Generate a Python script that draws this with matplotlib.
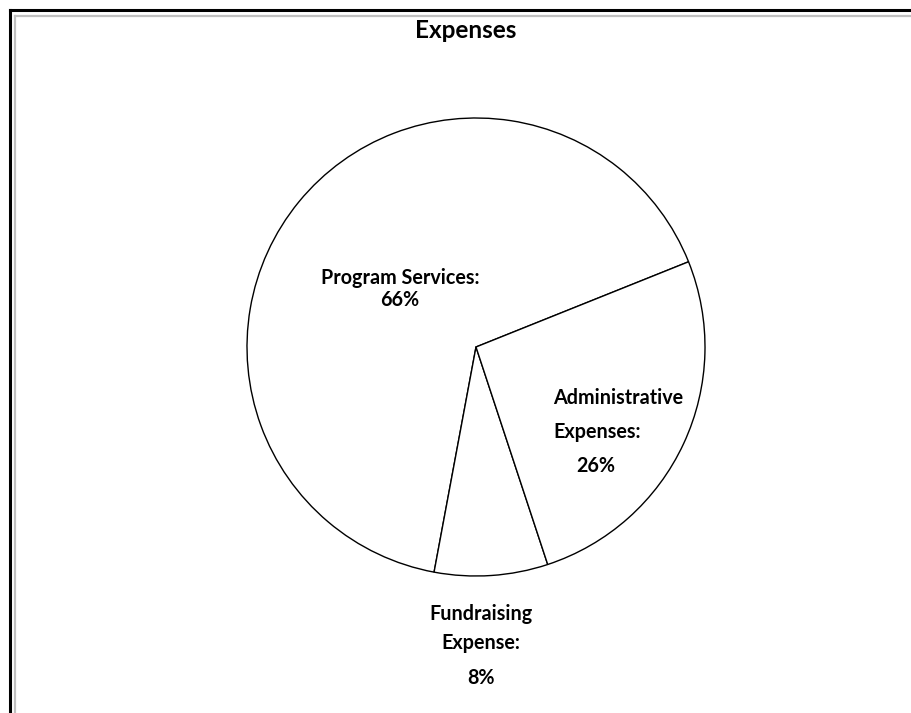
import matplotlib.pyplot as plt
from matplotlib.lines import Line2D

categories = ["Program Services", "Fundraising Expense", "Administrative Expenses"]
values = [66, 8, 26]
title = "Expenses"

W, H = 911, 713
fig = plt.figure(figsize=(W / 100, H / 100), dpi=100)
fig.patch.set_facecolor("white")
ax = fig.add_axes([0, 0, 1, 1])

# pie centre / radius in pixel units (y measured from the bottom)
cx, cy, r = 476, H - 347, 229
ax.pie(values, startangle=21.85, counterclock=True, center=(cx, cy), radius=r,
       colors=["white"] * len(values),
       wedgeprops=dict(edgecolor="black", linewidth=1.0), frame=True)
ax.set_xlim(0, W)
ax.set_ylim(0, H)
ax.set_aspect("equal")
ax.axis("off")

font = dict(family=["Lato", "DejaVu Sans"], fontweight="bold", fontsize=14.2, color="black")

ax.text(466, H - 31, title, ha="center", va="center", **dict(font, fontsize=17.5))

# Program Services
ax.text(400, H - 278, categories[0] + ":", ha="center", va="center", **font)
ax.text(400, H - 300, f"{values[0]}%", ha="center", va="center", **font)

# Administrative Expenses
adm1, adm2 = categories[2].split(" ")
ax.text(553, H - 398, adm1, ha="left", va="center", **font)
ax.text(553, H - 432, adm2 + ":", ha="left", va="center", **font)
ax.text(596, H - 466, f"{values[2]}%", ha="center", va="center", **font)

# Fundraising Expense
fr1, fr2 = categories[1].split(" ")
ax.text(481, H - 614, fr1, ha="center", va="center", **font)
ax.text(481, H - 643, fr2 + ":", ha="center", va="center", **font)
ax.text(481, H - 678, f"{values[1]}%", ha="center", va="center", **font)

# frame lines (top and left only, as in the cropped original)
fig.add_artist(Line2D([10 / W, 1], [1 - 10 / H, 1 - 10 / H], color="black", lw=2.2))
fig.add_artist(Line2D([10 / W, 10 / W], [0, 1 - 10 / H], color="black", lw=2.2))
fig.add_artist(Line2D([15 / W, 1], [1 - 15.5 / H, 1 - 15.5 / H], color="#c0c0c0", lw=1.6))
fig.add_artist(Line2D([15 / W, 15 / W], [0, 1 - 15.5 / H], color="#c0c0c0", lw=1.6))

fig.savefig("out.png", dpi=100, facecolor="white")
